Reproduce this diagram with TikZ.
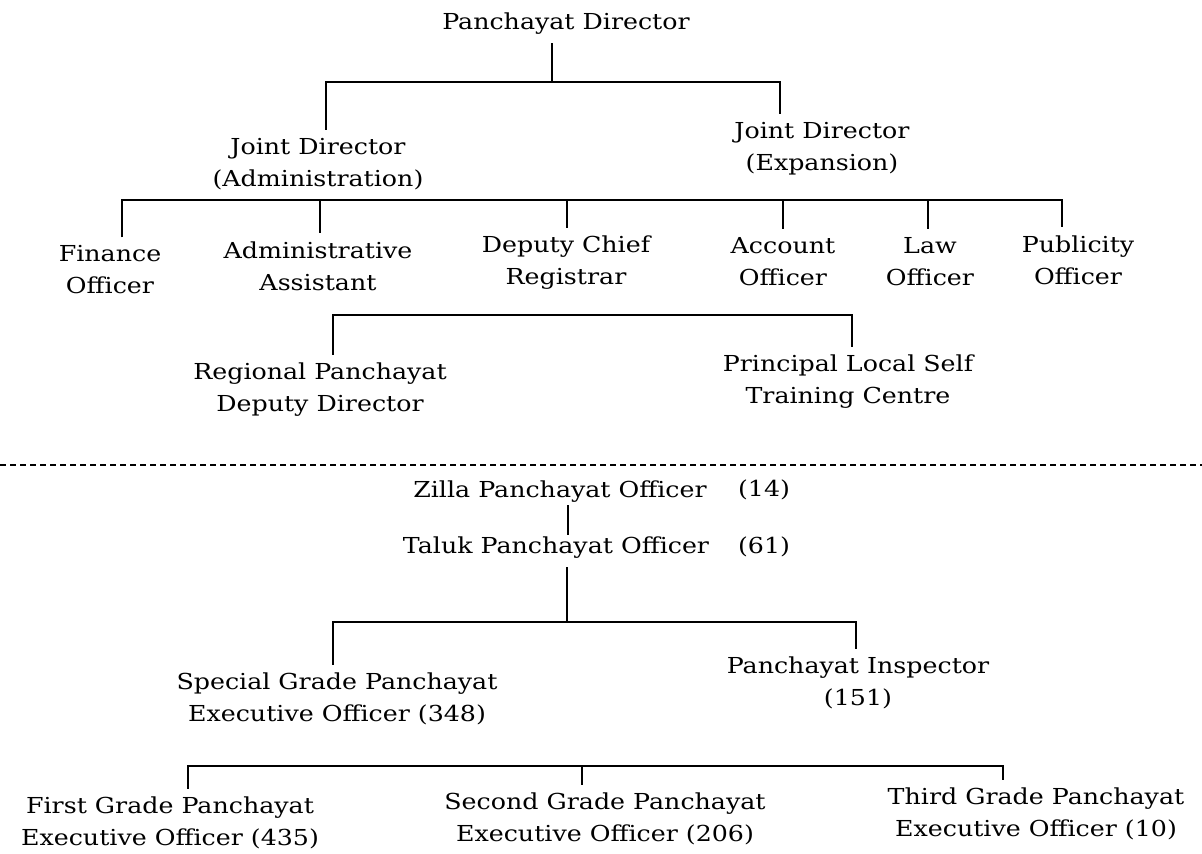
\documentclass[tikz,border=0pt]{standalone}
\usepackage{fontspec}
\setmainfont{DejaVu Serif}[FakeStretch=1.15]
\usepackage{tikz}
\usepackage{xcolor}

\begin{document}
\begin{tikzpicture}[x=0.5pt, y=-0.5pt,
		post/.style={align=center, inner sep=4pt, font=\fontsize{11}{16}\selectfont},
		bus/.style={black, line width=0.9pt}]
				\useasboundingbox (0,0) rectangle (1202,853);
				\node (A) at (566,24) [post] {Panchayat Director};
				\node (B) at (318,164) [post] {Joint Director\\(Administration)};
				\node (C) at (822,149) [post] {Joint Director\\(Expansion)};
				\node (D) at (110,270) [post] {Finance\\Officer};
				\node (E) at (318,266) [post] {Administrative\\Assistant};
				\node (F) at (566,263) [post] {Deputy Chief\\Registrar};
				\node (G) at (783,262) [post] {Account\\Officer};
				\node (H) at (930,262) [post] {Law\\Officer};
				\node (I) at (1078,260) [post] {Publicity\\Officer};
				\node (J) at (320,390) [post] {Regional Panchayat\\Deputy Director};
				\node (K) at (848,382) [post] {Principal Local Self\\Training Centre};
				\node (L) at (560,492) [post] {Zilla Panchayat Officer};
				\node (M) at (764,490) [post] {(14)};
				\node (N) at (556,548) [post] {Taluk Panchayat Officer};
				\node (O) at (764,547) [post] {(61)};
				\node (P) at (337,699) [post] {Special Grade Panchayat\\Executive Officer (348)};
				\node (Q) at (858,683) [post] {Panchayat Inspector\\(151)};
				\node (R) at (170,823) [post] {First Grade Panchayat\\Executive Officer (435)};
				\node (S) at (605,819) [post] {Second Grade Panchayat\\Executive Officer (206)};
				\node (T) at (1036,814) [post] {Third Grade Panchayat\\Executive Officer (10)};
				\coordinate (a0) at (552,82);
				\coordinate (a1) at (326,82);
				\coordinate (a2) at (780,82);
				\draw[bus] (a0 |- A.south) -- (a0);
				\draw[bus] (a1 |- B.north) -- (a1) -- (a2) -- (a2 |- C.north);
				\coordinate (b1) at (122,200);
				\coordinate (b2) at (320,200);
				\coordinate (b3) at (567,200);
				\coordinate (b4) at (783,200);
				\coordinate (b5) at (928,200);
				\coordinate (b6) at (1062,200);
				\draw[bus] (b1 |- D.north) -- (b1) -- (b6) -- (b6 |- I.north);
				\draw[bus] (b2) -- (b2 |- E.north);
				\draw[bus] (b3) -- (b3 |- F.north);
				\draw[bus] (b4) -- (b4 |- G.north);
				\draw[bus] (b5) -- (b5 |- H.north);
				\coordinate (c1) at (333,315);
				\coordinate (c2) at (852,315);
				\draw[bus] (c1 |- J.north) -- (c1) -- (c2) -- (c2 |- K.north);
				\coordinate (d1) at (0,465);
				\coordinate (d2) at (1202,465);
				\draw[black, line width=0.7pt, dash pattern=on 3pt off 2pt] (d1) -- (d2);
				\coordinate (e1) at (568,500);
				\draw[bus] ([yshift=3pt]L.south -| e1) -- ([yshift=-3pt]N.north -| e1);
				\coordinate (f1) at (567,622);
				\coordinate (f2) at (333,622);
				\coordinate (f3) at (856,622);
				\draw[bus] (f1 |- N.south) -- (f1);
				\draw[bus] (f2 |- P.north) -- (f2) -- (f3) -- (f3 |- Q.north);
				\coordinate (g1) at (188,766);
				\coordinate (g2) at (582,766);
				\coordinate (g3) at (1003,766);
				\draw[bus] (g1 |- R.north) -- (g1) -- (g3) -- (g3 |- T.north);
				\draw[bus] (g2) -- (g2 |- S.north);
			\end{tikzpicture}
\end{document}
